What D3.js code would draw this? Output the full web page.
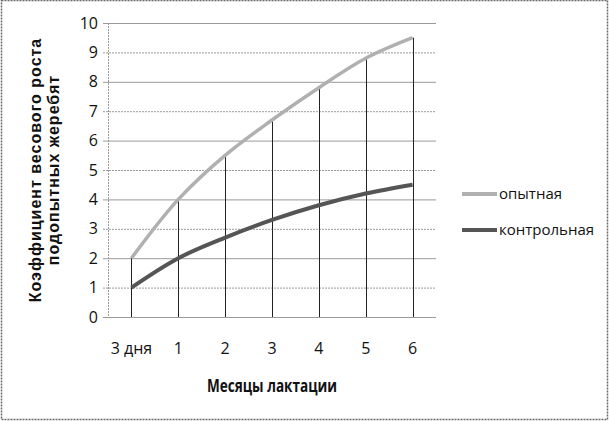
<!DOCTYPE html>
<html>
<head>
<meta charset="utf-8">
<script src="https://cdn.jsdelivr.net/npm/d3@7"></script>
<style>
  body { margin: 0; background: #fff; }
  svg { display: block; }
</style>
</head>
<body>
<div id="chart"></div>
<script>
const categories = ['3 дня', '1', '2', '3', '4', '5', '6'];
const experimental = [2, 4, 5.5, 6.7, 7.8, 8.8, 9.5];
const control = [1, 2, 2.7, 3.3, 3.8, 4.2, 4.5];
const yTicks = [0, 1, 2, 3, 4, 5, 6, 7, 8, 9, 10];

const width = 609;
const height = 421;
const margin = {top: 23, right: 173, bottom: 104, left: 108};
const labelFont = '"Open Sans", sans-serif';

const svg = d3.select('#chart')
    .append('svg')
    .attr('width', width)
    .attr('height', height);

// outer frame
svg.append('rect')
    .attr('x', 1.5).attr('y', 0.5)
    .attr('width', width - 3).attr('height', height - 2)
    .attr('fill', 'none')
    .attr('stroke', '#6a6a6a')
    .attr('stroke-width', 1.5)
    .attr('stroke-dasharray', '2,1');

const x = d3.scaleBand()
    .domain(categories)
    .range([margin.left, width - margin.right])
    .padding(0);

const y = d3.scaleLinear()
    .domain([0, 10])
    .range([height - margin.bottom, margin.top]);

const cx = (d) => x(d) + x.bandwidth() / 2;

// horizontal gridlines
svg.append('g')
    .selectAll('line')
    .data(yTicks)
    .enter()
    .append('line')
    .attr('x1', margin.left - 5)
    .attr('x2', width - margin.right)
    .attr('y1', (d) => y(d) + 0.5)
    .attr('y2', (d) => y(d) + 0.5)
    .attr('stroke', '#9a9a9a')
    .attr('stroke-width', 1)
    .attr('stroke-dasharray', (d) => d % 2 === 0 ? null : '2,1');

// y axis line
svg.append('line')
    .attr('x1', margin.left + 0.5).attr('x2', margin.left + 0.5)
    .attr('y1', y(10)).attr('y2', y(0))
    .attr('stroke', '#9a9a9a')
    .attr('stroke-dasharray', '2,1');

// y tick labels
svg.append('g')
    .selectAll('text')
    .data(yTicks)
    .enter()
    .append('text')
    .attr('x', margin.left - 10)
    .attr('y', (d) => y(d))
    .attr('dy', '0.35em')
    .attr('text-anchor', 'end')
    .style('font-family', labelFont)
    .style('font-size', '16px')
    .attr('fill', '#111')
    .text((d) => d);

// x tick labels
svg.append('g')
    .selectAll('text')
    .data(categories)
    .enter()
    .append('text')
    .attr('x', cx)
    .attr('y', y(0) + 37)
    .attr('text-anchor', 'middle')
    .style('font-family', labelFont)
    .style('font-size', '16px')
    .attr('fill', '#111')
    .text((d) => d);

// drop lines
svg.append('g')
    .selectAll('line')
    .data(categories)
    .enter()
    .append('line')
    .attr('x1', (d) => Math.round(cx(d)) + 0.5)
    .attr('x2', (d) => Math.round(cx(d)) + 0.5)
    .attr('y1', (d, i) => y(Math.max(experimental[i], control[i])))
    .attr('y2', y(0))
    .attr('stroke', '#222')
    .attr('stroke-width', 1);

const line = d3.line()
    .x((d, i) => cx(categories[i]))
    .y((d) => y(d))
    .curve(d3.curveCatmullRom.alpha(0.5));

svg.append('path')
    .datum(experimental)
    .attr('d', line)
    .attr('fill', 'none')
    .attr('stroke', '#b0b0b0')
    .attr('stroke-width', 3.5);

svg.append('path')
    .datum(control)
    .attr('d', line)
    .attr('fill', 'none')
    .attr('stroke', '#555')
    .attr('stroke-width', 4);

// legend
const legendItems = [
  {name: 'опытная', color: '#b0b0b0'},
  {name: 'контрольная', color: '#555'},
];

const legend = svg.selectAll('.legend')
    .data(legendItems)
    .enter()
    .append('g')
    .attr('class', 'legend')
    .attr('transform', (d, i) => 'translate(462,' + (194 + i * 36) + ')');

legend.append('line')
    .attr('x1', 0).attr('x2', 35)
    .attr('stroke', (d) => d.color)
    .attr('stroke-width', 4);

legend.append('text')
    .attr('x', 37)
    .attr('dy', '0.35em')
    .style('font-family', labelFont)
    .style('font-size', '15px')
    .attr('fill', '#111')
    .text((d) => d.name);

// axis titles
svg.append('text')
    .attr('x', 272)
    .attr('y', 392)
    .attr('text-anchor', 'middle')
    .attr('textLength', 130)
    .attr('lengthAdjust', 'spacingAndGlyphs')
    .style('font-family', labelFont)
    .style('font-size', '17px')
    .style('font-weight', 'bold')
    .attr('fill', '#111')
    .text('Месяцы лактации');

const yTitle = svg.append('text')
    .attr('transform', 'translate(41,170) rotate(-90)')
    .attr('text-anchor', 'middle')
    .style('font-family', '"Liberation Sans", Arial, sans-serif')
    .style('font-size', '16px')
    .style('font-weight', 'bold')
    .style('letter-spacing', '1px')
    .attr('fill', '#111');

yTitle.append('tspan').attr('x', 0).attr('dy', 0).text('Коэффициент весового роста');
yTitle.append('tspan').attr('x', 0).attr('dy', 18).text('подопытных жеребят');
</script>
</body>
</html>
